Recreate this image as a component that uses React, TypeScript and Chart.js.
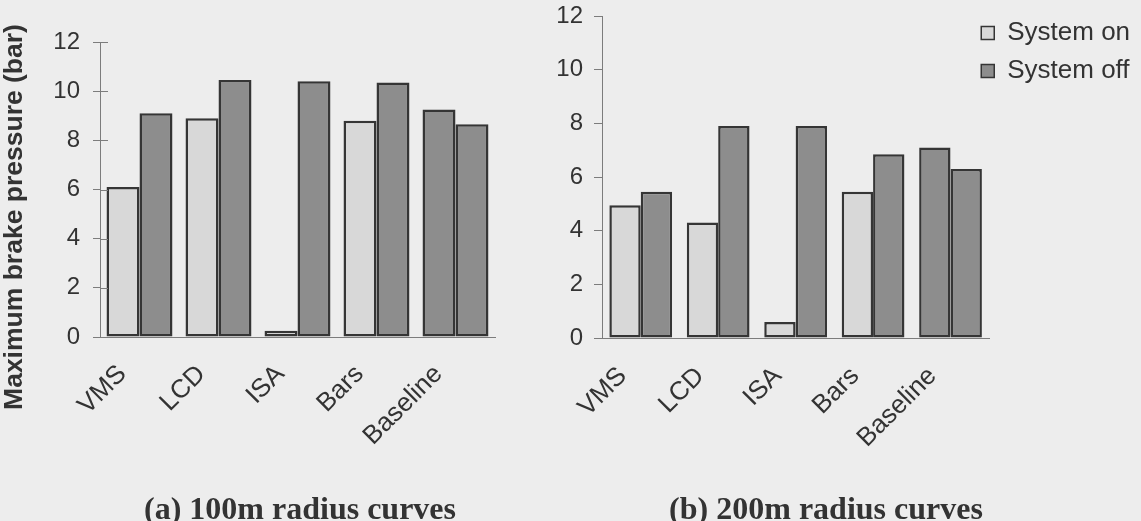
import React, { useEffect, useRef } from "react";
import { Chart, registerables } from "chart.js";

Chart.register(...registerables);

// ---- data ----
const categories = ["VMS", "LCD", "ISA", "Bars", "Baseline"];
const seriesNames = ["System on", "System off"];
const on100 = [6.1, 8.9, 0.25, 8.8, 9.25];
const off100 = [9.1, 10.45, 10.4, 10.35, 8.65];
const on200 = [4.95, 4.3, 0.6, 5.45, 7.1];
const off200 = [5.45, 7.9, 7.9, 6.85, 6.3];
const yMin = 0;
const yMax = 12;
const yStep = 2;
const yAxisTitle = "Maximum brake pressure (bar)";
const captions = ["(a) 100m radius curves", "(b) 200m radius curves"];

// ---- styles ----
const BG = "#ededed";
const LIGHT = "#d8d8d8";
const DARK = "#8d8d8d";
const EDGE = "#353535";
const TEXT = "#333333";
const AXIS = "#7c7c7c";
const SANS = "'Liberation Sans', Arial, Helvetica, sans-serif";
const SERIF = "'Liberation Serif', 'Times New Roman', serif";

const onColors = categories.map((c) => (c === "Baseline" ? DARK : LIGHT));
const offColors = categories.map(() => DARK);

// moves the legend's drawing origin after layout (the reference legend overlaps the plot's right margin)
const legendShift = {
  id: "legendShift",
  afterLayout(chart: any, _args: any, opts: any) {
    const l = chart.legend;
    if (!l || !opts || (!opts.dx && !opts.dy)) return;
    l.left += opts.dx;
    l.top += opts.dy;
  },
};

// short tick marks on the inner side of the value axis (crossing ticks)
const innerTicks = {
  id: "innerTicks",
  afterDraw(chart: any, _args: any, opts: any) {
    if (!opts || !opts.length) return;
    const y = chart.scales.y;
    const ctx = chart.ctx;
    ctx.save();
    ctx.strokeStyle = AXIS;
    ctx.lineWidth = 1;
    y.ticks.forEach((t: any) => {
      const py = Math.round(y.getPixelForValue(t.value)) + 0.5;
      ctx.beginPath();
      ctx.moveTo(y.right, py);
      ctx.lineTo(y.right + opts.length, py);
      ctx.stroke();
    });
    ctx.restore();
  },
};

type Panel = {
  yWidth: number;
  xHeight: number;
  padTop: number;
  padRight: number;
  catPct: number;
  labelOffset: number;
  xTickPad: number;
  yTickPad: number;
  tickLen: number;
  innerTick: number;
  legend: boolean;
  dx: number;
  dy: number;
};

const LEFT: Panel = {
  yWidth: 100,
  xHeight: 184,
  padTop: 42,
  padRight: 5,
  catPct: 0.835,
  labelOffset: -17,
  xTickPad: 14,
  yTickPad: 13,
  tickLen: 7,
  innerTick: 8,
  legend: false,
  dx: 0,
  dy: 0,
};

const RIGHT: Panel = {
  yWidth: 62,
  xHeight: 183,
  padTop: 16,
  padRight: 2,
  catPct: 0.81,
  labelOffset: -18,
  xTickPad: 15,
  yTickPad: 11,
  tickLen: 8,
  innerTick: 0,
  legend: true,
  dx: -20,
  dy: -8,
};

function makeConfig(onVals: number[], offVals: number[], p: Panel): any {
  return {
    type: "bar",
    data: {
      labels: categories,
      datasets: [
        {
          label: seriesNames[0],
          data: onVals,
          backgroundColor: onColors,
          borderColor: EDGE,
          borderWidth: 2.5,
          borderSkipped: false,
          barPercentage: 1,
          categoryPercentage: p.catPct,
        },
        {
          label: seriesNames[1],
          data: offVals,
          backgroundColor: offColors,
          borderColor: EDGE,
          borderWidth: 2.5,
          borderSkipped: false,
          barPercentage: 1,
          categoryPercentage: p.catPct,
        },
      ],
    },
    plugins: [legendShift, innerTicks],
    options: {
      responsive: false,
      animation: false,
      events: [],
      layout: {
        padding: { top: p.padTop, right: p.padRight, bottom: 0, left: 0 },
      },
      plugins: {
        tooltip: { enabled: false },
        title: { display: false },
        legendShift: { dx: p.dx, dy: p.dy },
        innerTicks: { length: p.innerTick },
        legend: {
          display: p.legend,
          position: "right",
          align: "start",
          labels: {
            boxWidth: 13,
            boxHeight: 13,
            padding: 12,
            color: TEXT,
            font: { family: SANS, size: 26 },
            generateLabels: () =>
              seriesNames.map((n, i) => ({
                text: n,
                fillStyle: i === 0 ? LIGHT : DARK,
                strokeStyle: EDGE,
                lineWidth: 1.5,
                hidden: false,
                datasetIndex: i,
                fontColor: TEXT,
              })),
          },
        },
      },
      scales: {
        x: {
          grid: { display: false },
          border: { display: true, color: AXIS, width: 1 },
          ticks: {
            autoSkip: false,
            minRotation: 45,
            maxRotation: 45,
            padding: p.xTickPad,
            labelOffset: p.labelOffset,
            color: TEXT,
            font: { family: SANS, size: 26 },
          },
          afterFit: (s: any) => {
            s.height = p.xHeight;
          },
        },
        y: {
          min: yMin,
          max: yMax,
          grid: {
            drawOnChartArea: false,
            drawTicks: true,
            tickLength: p.tickLen,
            color: AXIS,
            lineWidth: 1,
          },
          border: { display: true, color: AXIS, width: 1 },
          ticks: {
            stepSize: yStep,
            padding: p.yTickPad,
            color: TEXT,
            font: { family: SANS, size: 24 },
          },
          afterFit: (s: any) => {
            s.width = p.yWidth;
            s.paddingTop = 0;
            s.paddingBottom = 0;
          },
        },
      },
    },
  };
}

export default function App() {
  const leftRef = useRef<HTMLCanvasElement>(null);
  const rightRef = useRef<HTMLCanvasElement>(null);

  useEffect(() => {
    const a = new Chart(leftRef.current as HTMLCanvasElement, makeConfig(on100, off100, LEFT));
    const b = new Chart(rightRef.current as HTMLCanvasElement, makeConfig(on200, off200, RIGHT));
    return () => {
      a.destroy();
      b.destroy();
    };
  }, []);

  const captionStyle: React.CSSProperties = {
    position: "absolute",
    top: 492,
    width: 400,
    height: 32,
    lineHeight: "32px",
    textAlign: "center",
    fontFamily: SERIF,
    fontWeight: "bold",
    fontSize: 32,
    color: TEXT,
    whiteSpace: "nowrap",
  };

  return (
    <div
      style={{
        position: "fixed",
        left: 0,
        top: 0,
        width: 1141,
        height: 521,
        background: BG,
        overflow: "hidden",
      }}
    >
      <canvas
        ref={leftRef}
        width={500}
        height={521}
        style={{ position: "absolute", left: 0, top: 0, width: 500, height: 521 }}
      />
      <canvas
        ref={rightRef}
        width={601}
        height={521}
        style={{ position: "absolute", left: 540, top: 0, width: 601, height: 521 }}
      />
      <div
        style={{
          position: "absolute",
          left: 13 - 210,
          top: 217 - 15,
          width: 420,
          height: 30,
          lineHeight: "30px",
          textAlign: "center",
          fontFamily: SANS,
          fontWeight: "bold",
          fontSize: 26.5,
          color: TEXT,
          whiteSpace: "nowrap",
          transform: "rotate(-90deg)",
          transformOrigin: "50% 50%",
        }}
      >
        {yAxisTitle}
      </div>
      <div style={{ ...captionStyle, left: 100 }}>{captions[0]}</div>
      <div style={{ ...captionStyle, left: 626 }}>{captions[1]}</div>
    </div>
  );
}
